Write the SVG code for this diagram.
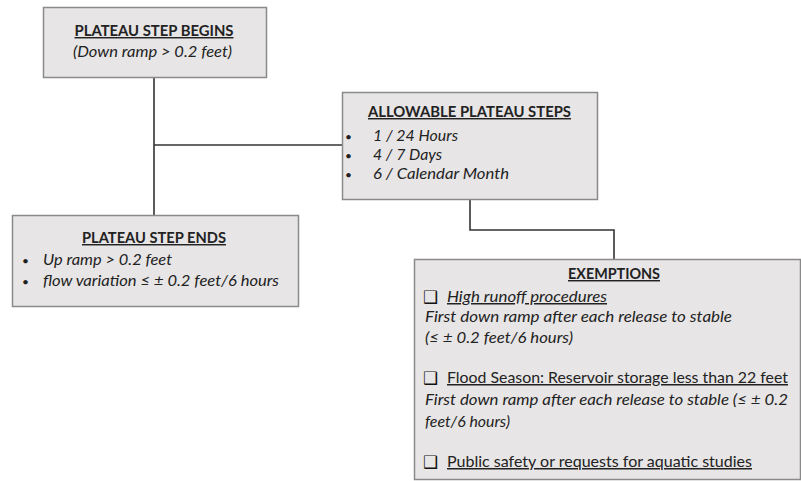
<svg xmlns="http://www.w3.org/2000/svg" width="801" height="481" viewBox="0 0 801 481">
<style>
.box{fill:#e7e5e5;stroke:#8a8a8a;stroke-width:1.5}
.conn{fill:none;stroke:#333;stroke-width:1.6}
text{font-family:Lato,"Liberation Sans",sans-serif;fill:#222;font-size:15px}
.t{font-weight:bold;font-size:14.5px;text-anchor:middle;text-decoration:underline}
.i{font-style:italic}
.u{text-decoration:underline}
.cb{font-family:"DejaVu Sans",sans-serif;font-size:17px;fill:#111}
.b{font-size:12px}
</style>
<rect width="801" height="481" fill="#fff"/>
<g id="connectors">
<path class="conn" d="M154,77 V215"/>
<path class="conn" d="M154,145 H342"/>
<path class="conn" d="M470,199 V230 H614 V259"/>
</g>
<g id="begins">
<rect class="box" x="43.5" y="7.5" width="223" height="70"/>
<text class="t" x="154" y="36" textLength="159" lengthAdjust="spacingAndGlyphs">PLATEAU STEP BEGINS</text>
<text class="i" x="73" y="57" textLength="159" lengthAdjust="spacingAndGlyphs">(Down ramp &gt; 0.2 feet)</text>
</g>
<g id="allowable">
<rect class="box" x="342.5" y="92.5" width="255" height="107"/>
<text class="t" x="469.5" y="117" textLength="203" lengthAdjust="spacingAndGlyphs">ALLOWABLE PLATEAU STEPS</text>
<text class="b" x="345" y="141">•</text><text class="i" x="373" y="141" textLength="85" lengthAdjust="spacingAndGlyphs">1 / 24 Hours</text>
<text class="b" x="345" y="160">•</text><text class="i" x="373" y="160" textLength="69" lengthAdjust="spacingAndGlyphs">4 / 7 Days</text>
<text class="b" x="345" y="179">•</text><text class="i" x="373" y="179" textLength="136" lengthAdjust="spacingAndGlyphs">6 / Calendar Month</text>
</g>
<g id="ends">
<rect class="box" x="12.5" y="215.5" width="286" height="91"/>
<text class="t" x="154" y="243" textLength="144" lengthAdjust="spacingAndGlyphs">PLATEAU STEP ENDS</text>
<text class="b" x="22" y="265">•</text><text class="i" x="43" y="265" textLength="129" lengthAdjust="spacingAndGlyphs">Up ramp &gt; 0.2 feet</text>
<text class="b" x="22" y="286">•</text><text class="i" x="43" y="286" textLength="236" lengthAdjust="spacingAndGlyphs">flow variation ≤ ± 0.2 feet/6 hours</text>
</g>
<g id="exemptions">
<rect class="box" x="414.5" y="259.5" width="386" height="220"/>
<text class="t" x="614" y="279" textLength="92" lengthAdjust="spacingAndGlyphs">EXEMPTIONS</text>
<text class="cb" x="423" y="303">❑</text><text class="i u" x="447" y="302" textLength="160" lengthAdjust="spacingAndGlyphs">High runoff procedures</text>
<text class="i" x="425" y="322" textLength="307" lengthAdjust="spacingAndGlyphs">First down ramp after each release to stable</text>
<text class="i" x="425" y="343" textLength="148" lengthAdjust="spacingAndGlyphs">(≤ ± 0.2 feet/6 hours)</text>
<text class="cb" x="423" y="384">❑</text><text class="u" x="447" y="383" textLength="341" lengthAdjust="spacingAndGlyphs">Flood Season: Reservoir storage less than 22 feet</text>
<text class="i" x="425" y="405" textLength="363" lengthAdjust="spacingAndGlyphs">First down ramp after each release to stable (≤ ± 0.2</text>
<text class="i" x="425" y="427" textLength="85" lengthAdjust="spacingAndGlyphs">feet/6 hours)</text>
<text class="cb" x="423" y="468">❑</text><text class="u" x="447" y="467" textLength="305" lengthAdjust="spacingAndGlyphs">Public safety or requests for aquatic studies</text>
</g>
</svg>
